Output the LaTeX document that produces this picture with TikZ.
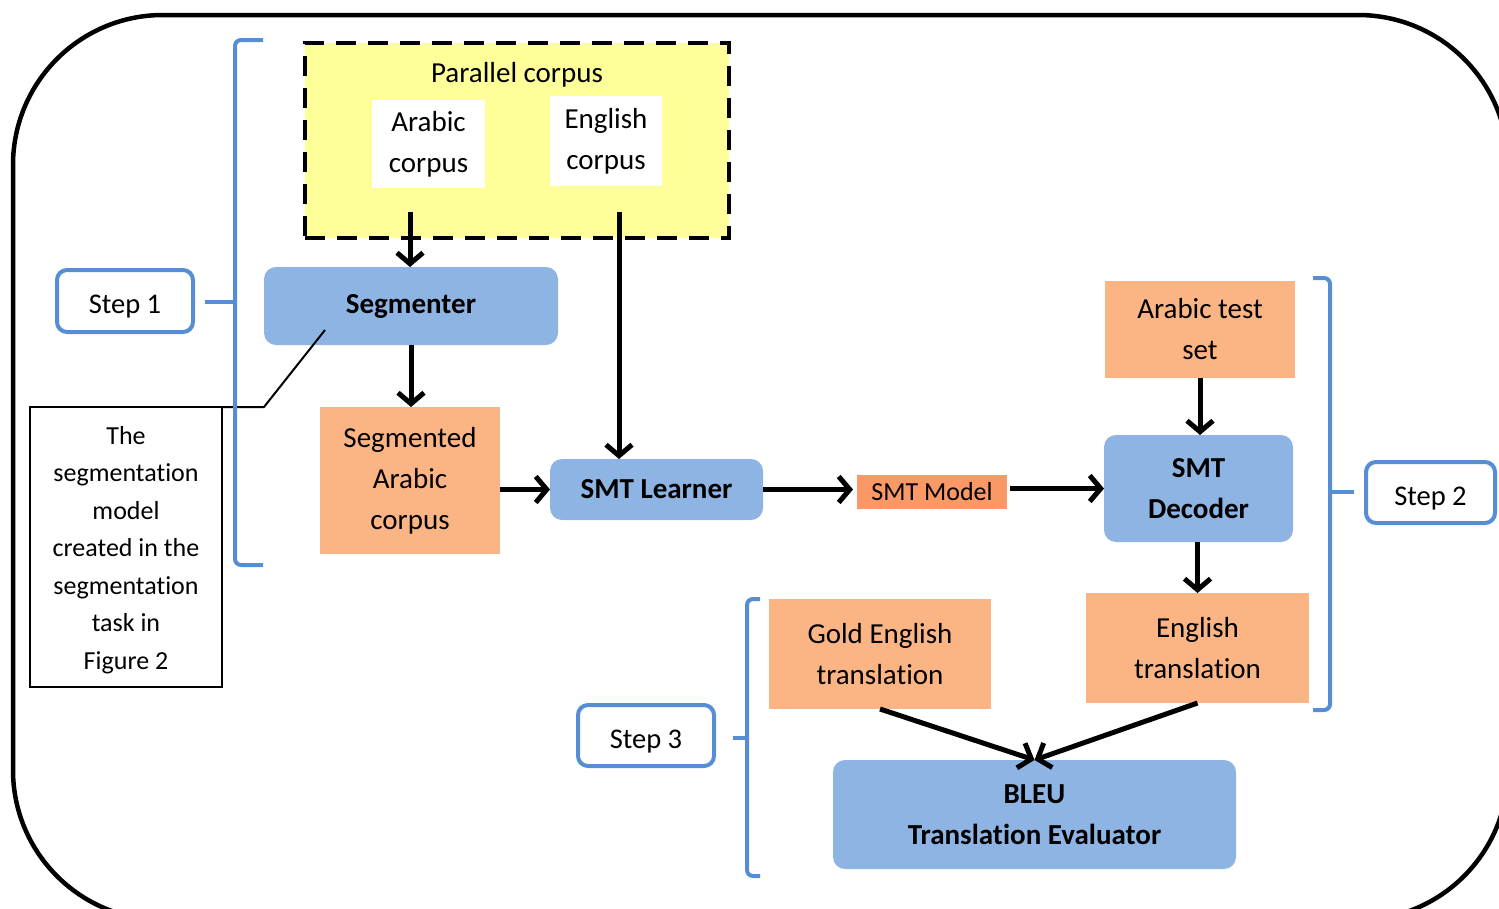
\documentclass[tikz,border=0pt]{standalone}
\usepackage{fontspec}
\setmainfont{Carlito}[Ligatures={NoCommon}]
\usetikzlibrary{arrows.meta,calc}
\definecolor{boxblue}{RGB}{142,180,227}
\definecolor{boxorange}{RGB}{251,180,132}
\definecolor{mdlorange}{RGB}{250,152,102}
\definecolor{paryellow}{RGB}{255,255,153}
\definecolor{stepblue}{RGB}{85,142,213}
\tikzset{
  every node/.style={inner sep=0pt, outer sep=0pt},
  txt/.style={font={\fontsize{29}{41}\selectfont}, align=center},
  bluebox/.style={txt, fill=boxblue, rounded corners=12pt, font={\fontsize{29}{41}\selectfont\bfseries}},
  orangebox/.style={txt, fill=boxorange},
  whitebox/.style={txt, fill=white},
  stepbox/.style={draw=stepblue, line width=4pt, fill=white, rounded corners=10pt,
    font={\fontsize{28.5}{35}\selectfont}, text height=31pt, text depth=6pt},
  flow/.style={line width=5pt, -{Straight Barb[length=11pt,width=26pt]}},
  brk/.style={draw=stepblue, line width=4pt, rounded corners=6pt},
}
\begin{document}
\begin{tikzpicture}[x=1pt,y=-1pt]
\useasboundingbox (0,0) rectangle (1499,908);
\begin{scope}
\clip (0,0) rectangle (1499,908);
\draw[line width=4.5pt, rounded corners=150pt] (13,15) rectangle (1508,920);
\end{scope}

% parallel corpus
\node[draw, fill=paryellow, line width=4.5pt, dash pattern=on 20pt off 12pt,
      minimum width=424pt, minimum height=195pt] (par) at (517,140.5) {};
\node[txt] (partitle) at (517,75) {Parallel corpus};
\node[whitebox, minimum width=113pt, minimum height=88pt] (ar) at (428.5,144) {Arabic\\corpus};
\node[whitebox, minimum width=112pt, minimum height=90pt] (en) at (606,141) {English\\corpus};

% step 1 chain
\node[bluebox, minimum width=294pt, minimum height=78pt] (seg) at (411,306) {Segmenter};
\node[orangebox, minimum width=180pt, minimum height=147pt] (sac) at (410,480.5) {Segmented\\Arabic\\corpus};
\node[bluebox, minimum width=213pt, minimum height=61pt] (lrn) at (656.5,489.5) {SMT Learner};
\node[txt, fill=mdlorange, minimum width=150pt, minimum height=34pt, font={\fontsize{26}{30}\selectfont}] (mdl) at (932,492) {SMT Model};

% step 2
\node[orangebox, minimum width=190pt, minimum height=97pt] (ats) at (1200,329.5) {Arabic test\\set};
\node[bluebox, minimum width=189pt, minimum height=107pt] (dec) at (1198.5,488.5) {SMT\\Decoder};
\node[orangebox, minimum width=223pt, minimum height=110pt] (etr) at (1197.5,648) {English\\translation};

% step 3
\node[orangebox, minimum width=222pt, minimum height=110pt] (get) at (880,654) {Gold English\\translation};
\node[bluebox, minimum width=403pt, minimum height=109pt] (bleu) at (1034.5,814.5) {BLEU\\Translation Evaluator};

% step labels
\node[stepbox, minimum width=136pt, minimum height=62pt] (s1) at (125,301) {Step 1};
\node[stepbox, minimum width=129pt, minimum height=61pt] (s2) at (1430.5,492.5) {Step 2};
\node[stepbox, minimum width=136pt, minimum height=61pt] (s3) at (646,735.5) {Step 3};

% callout
\node[draw, line width=2.2pt, minimum width=192pt, minimum height=280pt] (call) at (126,547) {};
\node[align=center, font={\fontsize{26}{37.5}\selectfont}] (calltxt) at (126,550)
  {The\\segmentation\\model\\created in the\\segmentation\\task in\\Figure 2};
\coordinate (cbend) at (264,407);
\coordinate (ctip) at (325,330);
\draw[line width=2pt] (call.north east) -- (cbend) -- (ctip);

% arrows
\coordinate (a1) at (410,212);
\coordinate (a2) at (619,212);
\draw[flow] (a1) -- (a1 |- seg.north);
\draw[flow] (a2) -- (a2 |- lrn.north);
\draw[flow] (seg.south) -- (seg.south |- sac.north);
\draw[flow] (sac.east |- lrn.west) -- (lrn.west);
\draw[flow, shorten >=4pt] (lrn.east) -- (lrn.east -| mdl.west);
\draw[flow, shorten <=3pt] (mdl.east |- dec.west) -- (dec.west);
\draw[flow] (ats.south) -- (ats.south |- dec.north);
\draw[flow] (dec.south -| etr.north) -- (etr.north);
\draw[flow] (get.south) -- (bleu.north);
\draw[flow] (etr.south) -- (bleu.north);

% brackets
\draw[brk] (263,40) -- (235,40) -- (235,565) -- (263,565);
\draw[brk, shorten >=12pt] (235,302) -- (s1.east |- 0,302);
\draw[brk] (1313,278) -- (1330,278) -- (1330,710) -- (1313,710);
\draw[brk, shorten >=12pt] (1330,492) -- (s2.west |- 0,492);
\draw[brk] (760,599) -- (747,599) -- (747,876) -- (760,876);
\draw[brk, shorten >=19pt] (747,738) -- (s3.east |- 0,738);
\end{tikzpicture}
\end{document}
